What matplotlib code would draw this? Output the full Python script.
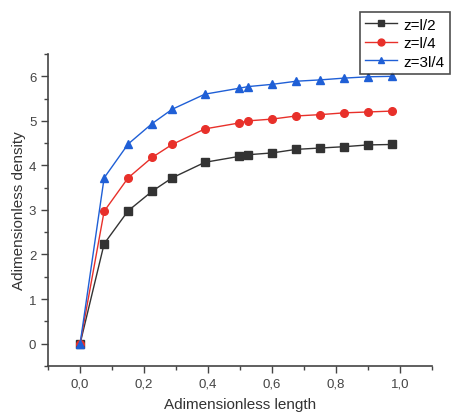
import matplotlib
matplotlib.use("Agg")
import matplotlib.pyplot as plt
from matplotlib.ticker import MultipleLocator, FuncFormatter

plt.rcParams["font.family"] = ["Liberation Sans", "DejaVu Sans"]

length = [0, 0.075, 0.15, 0.225, 0.2875, 0.39, 0.495, 0.525, 0.6, 0.675, 0.75, 0.825, 0.9, 0.975]
z_half = [0, 2.24, 2.98, 3.42, 3.72, 4.07, 4.20, 4.24, 4.28, 4.36, 4.39, 4.42, 4.46, 4.47]
z_quarter = [0, 2.97, 3.72, 4.18, 4.47, 4.82, 4.95, 5.00, 5.04, 5.11, 5.14, 5.18, 5.20, 5.22]
z_three_quarter = [0, 3.72, 4.48, 4.94, 5.26, 5.60, 5.73, 5.77, 5.82, 5.89, 5.92, 5.96, 5.99, 6.00]

series = [
    ("z=l/2", z_half, "#333333", "s"),
    ("z=l/4", z_quarter, "#e8302a", "o"),
    ("z=3l/4", z_three_quarter, "#1f5fd6", "^"),
]

fig = plt.figure(figsize=(4.54, 4.14), dpi=100)
ax = fig.add_axes([0.106, 0.114, 0.846, 0.753])

for label, vals, color, marker in series:
    ax.plot(length, vals, color=color, marker=marker, markersize=5.5,
            linewidth=1.0, label=label)

ax.set_xlim(-0.1, 1.1)
ax.set_ylim(-0.5, 6.5)
ax.xaxis.set_major_locator(MultipleLocator(0.2))
ax.xaxis.set_minor_locator(MultipleLocator(0.1))
ax.yaxis.set_major_locator(MultipleLocator(1))
ax.yaxis.set_minor_locator(MultipleLocator(0.5))
ax.xaxis.set_major_formatter(FuncFormatter(lambda v, p: f"{v:.1f}".replace(".", ",")))
ax.yaxis.set_major_formatter(FuncFormatter(lambda v, p: f"{v:.0f}"))

for side in ("top", "right"):
    ax.spines[side].set_visible(False)
for side in ("left", "bottom"):
    ax.spines[side].set_color("#444444")
    ax.spines[side].set_linewidth(1.2)

ax.tick_params(which="major", direction="out", length=5, width=1, colors="#444444",
               labelsize=9.5)
ax.tick_params(which="minor", direction="out", length=3, width=1, colors="#444444")

ax.set_xlabel("Adimensionless length", fontsize=11, color="#333333", labelpad=5)
ax.set_ylabel("Adimensionless density", fontsize=11, color="#333333", labelpad=2)

leg = fig.legend(loc="upper right", bbox_to_anchor=(0.991, 0.968), fontsize=11,
                 frameon=True, fancybox=False, borderpad=0.35, labelspacing=0.3,
                 handlelength=2.1, handletextpad=0.4, borderaxespad=0,
                 markerscale=0.9)
leg.get_frame().set_edgecolor("#222222")
leg.get_frame().set_linewidth(1.2)

fig.savefig("out.png", dpi=100)
plt.close(fig)
